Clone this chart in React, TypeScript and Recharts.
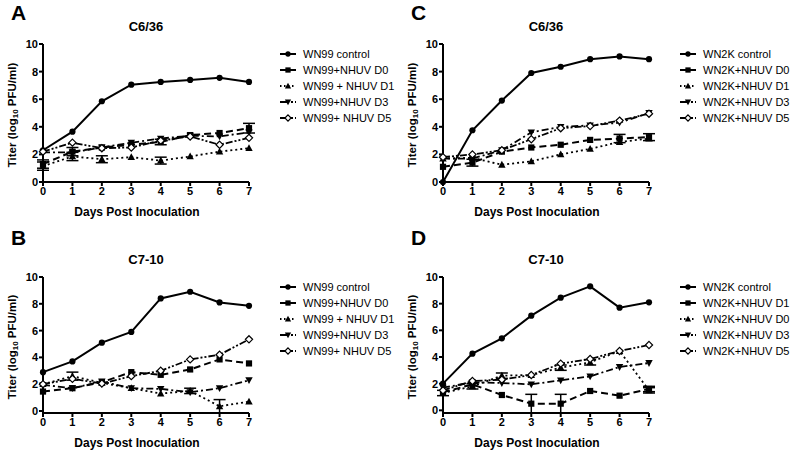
import React from "react";
import { LineChart, Line, XAxis, YAxis, ErrorBar } from "recharts";

const DAYS = [0, 1, 2, 3, 4, 5, 6, 7];
const Y_TICKS = [0, 2, 4, 6, 8, 10];

// Panel A: WN99 in C6/36
const A_CONTROL = [2.3, 3.65, 5.85, 7.05, 7.25, 7.4, 7.55, 7.25];
const A_D0 = [1.3, 2.2, 2.5, 2.7, 2.9, 3.4, 3.55, 3.9];
const A_D1 = [1.15, 1.85, 1.65, 1.8, 1.55, 1.85, 2.2, 2.45];
const A_D3 = [2.15, 2.15, 2.5, 2.85, 3.15, 3.35, 3.3, 3.6];
const A_D5 = [2.2, 2.85, 2.45, 2.5, 3.0, 3.3, 2.7, 3.2];
const A_D0_ERR = [0.3, 0.3, 0, 0, 0.2, 0, 0, 0.35];
const A_D1_ERR = [0.3, 0.3, 0.25, 0, 0.25, 0, 0, 0];

// Panel B: WN99 in C7-10
const B_CONTROL = [2.9, 3.7, 5.1, 5.9, 8.4, 8.9, 8.1, 7.85];
const B_D0 = [1.45, 1.7, 2.15, 2.9, 2.7, 3.1, 3.85, 3.55];
const B_D1 = [2.0, 2.6, 2.1, 1.7, 1.3, 1.5, 0.35, 0.7];
const B_D3 = [1.95, 1.7, 2.2, 1.7, 1.65, 1.4, 1.7, 2.3];
const B_D5 = [2.0, 2.4, 2.05, 2.6, 3.0, 3.85, 4.2, 5.35];
const B_D1_ERR = [0, 0.3, 0, 0, 0, 0.2, 0.5, 0];

// Panel C: WN2K in C6/36
const C_CONTROL = [0, 3.75, 5.9, 7.9, 8.35, 8.9, 9.1, 8.9];
const C_D0 = [1.1, 1.4, 2.2, 2.5, 2.7, 3.05, 3.15, 3.25];
const C_D1 = [1.7, 1.75, 1.25, 1.5, 2.0, 2.4, 2.9, 3.15];
const C_D3 = [1.7, 1.7, 2.3, 3.6, 4.0, 4.1, 4.3, 5.0];
const C_D5 = [1.8, 2.0, 2.3, 3.1, 3.9, 4.05, 4.45, 4.95];
const C_D0_ERR = [0, 0.25, 0, 0, 0, 0, 0.3, 0.25];

// Panel D: WN2K in C7-10
const D_CONTROL = [2.0, 4.25, 5.4, 7.1, 8.45, 9.3, 7.7, 8.1];
const D_D1 = [1.35, 1.95, 1.15, 0.5, 0.5, 1.45, 1.1, 1.6];
const D_D0 = [1.3, 1.8, 2.6, 2.65, 3.2, 3.6, 4.45, 1.5];
const D_D3 = [1.7, 2.1, 2.05, 1.95, 2.25, 2.55, 3.25, 3.55];
const D_D5 = [1.5, 2.2, 2.3, 2.65, 3.5, 3.85, 4.45, 4.9];
const D_D1_ERR = [0, 0, 0, 0.7, 0.7, 0, 0, 0.2];
const D_D0_ERR = [0.2, 0.2, 0.2, 0, 0.2, 0.2, 0, 0.2];

const LABELS_A = ["WN99 control", "WN99+NHUV D0", "WN99 + NHUV D1", "WN99+NHUV D3", "WN99+ NHUV D5"];
const LABELS_C = ["WN2K control", "WN2K+NHUV D0", "WN2K+NHUV D1", "WN2K+NHUV D3", "WN2K+NHUV D5"];
const LABELS_D = ["WN2K control", "WN2K+NHUV D1", "WN2K+NHUV D0", "WN2K+NHUV D3", "WN2K+NHUV D5"];

type Shape = "circle" | "square" | "triangle" | "invTriangle" | "diamond";
type Series = { name: string; values: number[]; err?: number[]; shape: Shape; dash?: string; legendDash?: string; width: number };

const STYLES: { shape: Shape; dash?: string; legendDash?: string; width: number }[] = [
  { shape: "circle", dash: undefined, legendDash: undefined, width: 2 },
  { shape: "square", dash: "7 4", legendDash: undefined, width: 2 },
  { shape: "triangle", dash: "2 3", legendDash: "1.5 2.5", width: 1.8 },
  { shape: "invTriangle", dash: "7 3 2 3", legendDash: "9 2 2 2", width: 1.8 },
  { shape: "diamond", dash: "7 2 2 2 2 2", legendDash: "9 2 2 2", width: 1.8 },
];

const FONT = "'Liberation Sans', Arial, sans-serif";

function drawMarker(shape: Shape, cx: number, cy: number, key?: string | number, s: number = 1) {
  switch (shape) {
    case "circle":
      return <circle key={key} cx={cx} cy={cy} r={3.1 * s} fill="#000" />;
    case "square":
      return <rect key={key} x={cx - 3.1 * s} y={cy - 3.1 * s} width={6.2 * s} height={6.2 * s} fill="#000" />;
    case "triangle":
      return <polygon key={key} points={`${cx},${cy - 3.9 * s} ${cx - 3.7 * s},${cy + 2.9 * s} ${cx + 3.7 * s},${cy + 2.9 * s}`} fill="#000" />;
    case "invTriangle":
      return <polygon key={key} points={`${cx},${cy + 3.9 * s} ${cx - 3.7 * s},${cy - 2.9 * s} ${cx + 3.7 * s},${cy - 2.9 * s}`} fill="#000" />;
    case "diamond":
      return (
        <polygon
          key={key}
          points={`${cx},${cy - 3.6 * s} ${cx + 3.6 * s},${cy} ${cx},${cy + 3.6 * s} ${cx - 3.6 * s},${cy}`}
          fill="#fff"
          stroke="#000"
          strokeWidth={1.2}
        />
      );
  }
}

function buildSeries(labels: string[], vals: number[][], errs: (number[] | undefined)[]): Series[] {
  return labels.map((name, i) => ({ name, values: vals[i], err: errs[i], ...STYLES[i] }));
}

const SERIES_A = buildSeries(LABELS_A, [A_CONTROL, A_D0, A_D1, A_D3, A_D5], [undefined, A_D0_ERR, A_D1_ERR, undefined, undefined]);
const SERIES_B = buildSeries(LABELS_A, [B_CONTROL, B_D0, B_D1, B_D3, B_D5], [undefined, undefined, B_D1_ERR, undefined, undefined]);
const SERIES_C = buildSeries(LABELS_C, [C_CONTROL, C_D0, C_D1, C_D3, C_D5], [undefined, C_D0_ERR, undefined, undefined, undefined]);
const SERIES_D = buildSeries(LABELS_D, [D_CONTROL, D_D1, D_D0, D_D3, D_D5], [undefined, D_D1_ERR, D_D0_ERR, undefined, undefined]);

function Panel(props: {
  left: number;
  top: number;
  height: number;
  plotTop: number;
  plotBottom: number;
  letter: string;
  title: string;
  series: Series[];
  legendTop: number;
}) {
  const { left, top, height, plotTop, plotBottom, letter, title, series, legendTop } = props;
  const data = DAYS.map((d, j) => {
    const row: any = { day: d };
    series.forEach((s, i) => {
      row["s" + i] = s.values[j];
      if (s.err) row["e" + i] = s.err[j] > 0 ? s.err[j] : undefined;
    });
    return row;
  });
  const width = 270;
  const plotLeft = 43;
  const plotRight = 249;
  const xAxisH = 30;
  const margin = { top: plotTop - top, right: width - plotRight, left: 0, bottom: top + height - plotBottom - xAxisH };
  const centerY = (plotTop + plotBottom) / 2;
  return (
    <>
      <div style={{ position: "absolute", left: left + 11, top: top + 1, fontFamily: FONT, fontWeight: "bold", fontSize: 21, lineHeight: "24px" }}>
        {letter}
      </div>
      <div style={{ position: "absolute", left: left + 96, width: 100, textAlign: "center", top: plotTop - 25, fontFamily: FONT, fontWeight: "bold", fontSize: 13, lineHeight: "16px" }}>
        {title}
      </div>
      <div
        style={{
          position: "absolute",
          left: left + 14 - 80,
          width: 160,
          top: centerY - 8,
          textAlign: "center",
          transform: "rotate(-90deg)",
          fontFamily: FONT,
          fontWeight: "bold",
          fontSize: 11.5,
          lineHeight: "16px",
          whiteSpace: "nowrap",
        }}
      >
        Titer (log<sub style={{ fontSize: 8, verticalAlign: "-2px" }}>10</sub> PFU/ml)
      </div>
      <div style={{ position: "absolute", left: left + 37, width: 200, textAlign: "center", top: plotBottom + 22, fontFamily: FONT, fontWeight: "bold", fontSize: 12, lineHeight: "16px" }}>
        Days Post Inoculation
      </div>
      <div style={{ position: "absolute", left, top }}>
        <LineChart width={width} height={height} data={data} margin={margin}>
          <XAxis
            dataKey="day"
            type="number"
            domain={[0, 7]}
            ticks={DAYS}
            interval={0}
            height={xAxisH}
            axisLine={{ stroke: "#000", strokeWidth: 2 }}
            tickLine={{ stroke: "#000", strokeWidth: 2 }}
            tickSize={4}
            tickMargin={1}
            tick={{ fill: "#000", fontSize: 11, fontWeight: "bold", fontFamily: FONT }}
          />
          <YAxis
            type="number"
            domain={[0, 10]}
            ticks={Y_TICKS}
            interval={0}
            width={plotLeft}
            axisLine={{ stroke: "#000", strokeWidth: 2 }}
            tickLine={{ stroke: "#000", strokeWidth: 2 }}
            tickSize={4}
            tickMargin={1}
            tick={{ fill: "#000", fontSize: 11, fontWeight: "bold", fontFamily: FONT }}
          />
          {series.map((s, i) => (
            <Line
              key={s.name}
              dataKey={"s" + i}
              name={s.name}
              stroke="#000"
              strokeWidth={s.width}
              strokeDasharray={s.dash}
              isAnimationActive={false}
              dot={(p: any) => drawMarker(s.shape, p.cx, p.cy, p.key ?? `${i}-${p.index}`) as any}
              activeDot={false}
            >
              {s.err ? <ErrorBar dataKey={"e" + i} width={6} stroke="#000" strokeWidth={1.5} direction="y" /> : null}
            </Line>
          ))}
        </LineChart>
      </div>
      <div style={{ position: "absolute", left: left + 279, top: legendTop - 8 }}>
        {series.map((s) => (
          <div key={s.name} style={{ display: "flex", alignItems: "center", height: 16, fontFamily: FONT, fontSize: 11, whiteSpace: "nowrap" }}>
            <svg width={22} height={12} style={{ marginRight: 2 }}>
              <line x1={1} y1={6} x2={17} y2={6} stroke="#000" strokeWidth={2} strokeDasharray={s.legendDash} />
              {drawMarker(s.shape, 9, 6, undefined, 0.85)}
            </svg>
            {s.name}
          </div>
        ))}
      </div>
    </>
  );
}

export default function App() {
  return (
    <div style={{ position: "fixed", left: 0, top: 0, width: 798, height: 456, background: "#fff", overflow: "hidden" }}>
      <Panel left={0} top={0} height={225} plotTop={44} plotBottom={182} letter="A" title="C6/36" series={SERIES_A} legendTop={54} />
      <Panel left={0} top={225} height={231} plotTop={277} plotBottom={413} letter="B" title="C7-10" series={SERIES_B} legendTop={287} />
      <Panel left={400} top={0} height={225} plotTop={44} plotBottom={182} letter="C" title="C6/36" series={SERIES_C} legendTop={54} />
      <Panel left={400} top={225} height={231} plotTop={277} plotBottom={413} letter="D" title="C7-10" series={SERIES_D} legendTop={287} />
    </div>
  );
}
